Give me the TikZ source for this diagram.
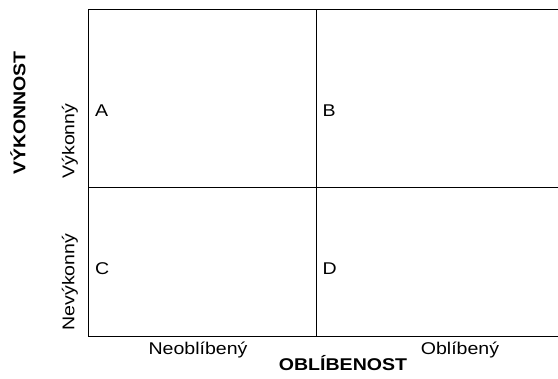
\documentclass[tikz,border=0pt]{standalone}
\usepackage{fontspec}
\setmainfont[FakeStretch=1.15]{Liberation Sans}
\usetikzlibrary{calc}

\begin{document}
\begin{tikzpicture}[x=1pt,y=-1pt,line cap=rect,line join=miter,
  lbl/.style={inner sep=0pt,font=\fontsize{17}{20}\selectfont},
  axis/.style={inner sep=0pt,font=\fontsize{17}{20}\selectfont\bfseries}]
  \useasboundingbox (0,0) rectangle (558,379);
  \coordinate (TL) at (88.5,9.5);
  \coordinate (TR) at (557.5,9.5);
  \coordinate (BL) at (88.5,336.5);
  \coordinate (BR) at (557.5,336.5);
  \coordinate (ML) at (88.5,187.5);
  \coordinate (MR) at (557.5,187.5);
  \coordinate (MT) at (316.5,9.5);
  \coordinate (MB) at (316.5,336.5);
  \draw[line width=1.3pt] (TR) -- (TL) -- (BL) -- (BR);
  \draw[line width=1.3pt] (ML) -- (MR);
  \draw[line width=1.3pt] (MT) -- (MB);
  \node[lbl,anchor=west] (qa) at (95,111) {A};
  \node[lbl,anchor=west] (qb) at (322.5,111) {B};
  \node[lbl,anchor=west] (qc) at (95,269) {C};
  \node[lbl,anchor=west] (qd) at (322.5,269) {D};
  \node[lbl,rotate=90] (vyk) at (70,141) {Výkonný};
  \node[lbl,rotate=90] (nevyk) at (70,282) {Nevýkonný};
  \node[axis,rotate=90] (vykon) at (18,113) {VÝKONNOST};
  \node[lbl,anchor=base] (neobl) at (198,354.5) {Neoblíbený};
  \node[lbl,anchor=base] (obl) at (460,354.5) {Oblíbený};
  \node[axis,anchor=base] (oblib) at (343,370.5) {OBLÍBENOST};
\end{tikzpicture}
\end{document}
